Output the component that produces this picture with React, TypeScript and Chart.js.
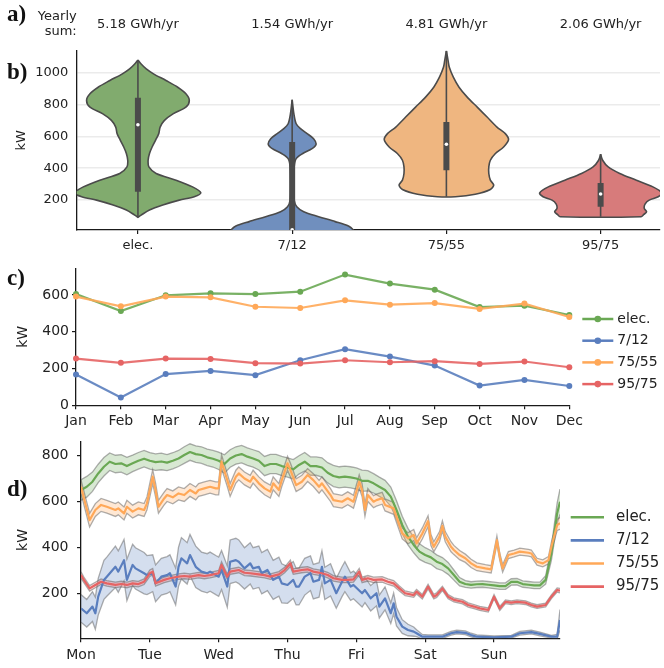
import React, { useEffect, useRef } from 'react';
import { Chart, registerables } from 'chart.js';

Chart.register(...registerables);
Chart.defaults.font.family = '"DejaVu Sans", sans-serif';
Chart.defaults.color = '#222';

// ---------- shared ----------
const seriesNames = ['elec.', '7/12', '75/55', '95/75'];
const lineRGB = [[106, 168, 84], [90, 126, 190], [255, 168, 88], [230, 100, 100]];
const violinRGB = [[129, 171, 110], [112, 143, 190], [239, 182, 128], [215, 123, 123]];
const rgba = (c: number[], a = 1) => `rgba(${c[0]},${c[1]},${c[2]},${a})`;

// ---------- panel a/b : yearly sums and violins ----------
const yearlySumsGWh = [5.18, 1.54, 4.81, 2.06];
const violinTicks = [200, 400, 600, 800, 1000];

// [kW, half width in category units]
const elecProfile = [
  [1079, 0], [1054, 0.021], [1023, 0.054], [992, 0.101], [950, 0.182], [908, 0.258], [867, 0.311],
  [825, 0.333], [783, 0.311], [742, 0.23], [700, 0.172], [658, 0.144], [617, 0.135], [575, 0.114],
  [533, 0.092], [492, 0.075], [450, 0.066], [408, 0.071], [367, 0.118], [325, 0.247], [283, 0.354],
  [246, 0.408], [221, 0.365], [200, 0.268], [169, 0.161], [138, 0.075], [106, 0.021], [92, 0],
];
const chw712Profile = [
  [829, 0], [742, 0.011], [679, 0.026], [648, 0.054], [617, 0.097], [585, 0.139], [550, 0.155],
  [523, 0.129], [492, 0.069], [460, 0.026], [408, 0.013], [283, 0.009], [200, 0.013], [158, 0.03],
  [127, 0.075], [96, 0.172], [65, 0.279], [37, 0.365], [12, 0.397], [-20, 0.42], [-60, 0.3], [-100, 0],
];
const hw7555Profile = [
  [1137, 0], [1075, 0.011], [1033, 0.019], [971, 0.045], [908, 0.082], [846, 0.135], [783, 0.2],
  [721, 0.264], [658, 0.328], [617, 0.382], [579, 0.403], [533, 0.371], [492, 0.318], [450, 0.285],
  [408, 0.275], [367, 0.275], [325, 0.285], [294, 0.307], [267, 0.285], [237, 0.187], [221, 0.058],
];
const hw9575Profile = [
  [488, 0], [450, 0.013], [408, 0.049], [367, 0.124], [325, 0.232], [283, 0.339], [246, 0.395],
  [221, 0.373], [200, 0.315], [175, 0.288], [148, 0.283], [127, 0.298], [110, 0.28], [96, 0.262],
];
// [whisker low, q1, median, q3, whisker high]
const elecBox = [92, 252, 673, 842, 1079];
const chw712Box = [0, 0, 14, 565, 829];
const hw7555Box = [221, 388, 550, 690, 1137];
const hw9575Box = [96, 158, 238, 308, 488];

// ---------- panel c : monthly means ----------
const months = ['Jan', 'Feb', 'Mar', 'Apr', 'May', 'Jun', 'Jul', 'Aug', 'Sep', 'Oct', 'Nov', 'Dec'];
const monthlyTicks = [0, 200, 400, 600];
const elecMonthly = [605, 513, 598, 609, 605, 618, 711, 662, 629, 534, 542, 491];
const chw712Monthly = [167, 42, 170, 187, 164, 245, 305, 265, 216, 107, 138, 105];
const hw7555Monthly = [591, 538, 591, 587, 536, 529, 571, 547, 556, 524, 553, 480];
const hw9575Monthly = [254, 231, 254, 252, 229, 227, 245, 234, 240, 225, 238, 207];

// ---------- panel d : typical week ----------
const dayNames = ['Mon', 'Tue', 'Wed', 'Thu', 'Fri', 'Sat', 'Sun'];
const weekTicks = [200, 400, 600, 800];

const elecWeekHours = [...Array.from({ length: 84 }, (_, i) => i * 2), 167];
const elecWeekKW = [
  651, 665, 687, 723, 752, 774, 764, 767, 755, 767, 778, 787,
  778, 772, 775, 770, 778, 788, 803, 816, 807, 803, 793, 787,
  778, 764, 788, 801, 807, 796, 788, 778, 755, 764, 764, 755,
  749, 741, 760, 774, 755, 755, 749, 726, 712, 706, 709, 706,
  701, 691, 691, 680, 665, 651, 622, 564, 499, 448, 412, 383,
  368, 358, 339, 329, 310, 281, 252, 242, 238, 241, 242, 239,
  236, 233, 233, 251, 252, 242, 239, 236, 236, 260, 375, 549,
  600,
];
const elecWeekSpread = [
  45, 45, 42, 40, 40, 38, 38, 38, 38, 36, 36, 36,
  36, 36, 36, 35, 35, 35, 36, 36, 36, 36, 36, 36,
  38, 40, 38, 38, 38, 38, 38, 40, 42, 42, 42, 42,
  42, 42, 40, 40, 40, 40, 42, 44, 46, 46, 46, 46,
  46, 46, 44, 42, 42, 42, 42, 40, 38, 36, 34, 34,
  32, 30, 30, 28, 26, 22, 18, 15, 14, 14, 14, 14,
  14, 14, 14, 14, 14, 14, 14, 14, 14, 18, 30, 45,
  55,
];

const chw712WeekHours = [
  0, 2, 4, 5, 6, 8, 9, 12, 13, 15, 16, 18, 19, 22, 23, 25, 26, 28, 30, 31,
  33, 34, 35, 37, 38, 40, 42, 44, 45, 47, 48, 49, 51, 52, 54, 55, 57, 59, 60, 62,
  63, 65, 67, 69, 70, 72, 74, 75, 76, 78, 80, 81, 83, 84, 85, 87, 89, 91, 92, 94,
  95, 98, 99, 101, 103, 104, 106, 108, 109, 110, 112, 114, 116, 117, 119, 121, 126, 129, 131, 134,
  136, 138, 144, 150, 153, 157, 160, 164, 166, 167,
];
const chw712WeekKW = [
  136, 115, 144, 115, 187, 260, 274, 317, 296, 346, 260, 325, 310, 289, 281, 289, 245, 274, 281, 289,
  231, 317, 354, 332, 368, 317, 296, 289, 296, 281, 274, 303, 231, 339, 346, 339, 310, 332, 310, 317,
  289, 303, 260, 274, 245, 238, 260, 231, 231, 274, 289, 252, 260, 317, 245, 260, 202, 252, 274, 231,
  238, 202, 216, 180, 202, 144, 180, 115, 158, 100, 57, 42, 35, 28, 13, 13, 13, 28, 33, 30,
  20, 13, 10, 13, 28, 33, 25, 13, 13, 86,
];
const chw712WeekSpread = [
  60, 60, 65, 70, 80, 85, 85, 90, 90, 90, 90, 90, 90, 90, 85, 80, 80, 80, 80, 80,
  80, 85, 90, 90, 90, 90, 85, 85, 85, 85, 85, 85, 90, 95, 95, 95, 90, 90, 90, 90,
  90, 90, 85, 85, 85, 80, 80, 80, 80, 80, 75, 75, 75, 70, 70, 70, 65, 65, 65, 60,
  60, 60, 55, 55, 55, 50, 50, 45, 45, 40, 30, 25, 20, 15, 10, 8, 8, 8, 8, 8,
  8, 8, 6, 6, 8, 8, 8, 6, 10, 45,
];

const hw7555WeekHours = [
  0, 3, 5, 7, 9, 12, 13, 15, 16, 18, 20, 22, 23, 24, 25, 26, 27, 29, 30, 32,
  34, 36, 38, 40, 41, 43, 45, 47, 48, 49, 51, 52, 54, 55, 57, 59, 60, 62, 64, 66,
  67, 69, 70, 72, 73, 75, 77, 79, 81, 83, 84, 87, 88, 91, 93, 95, 97, 98, 99, 100,
  102, 103, 105, 106, 109, 110, 112, 114, 116, 117, 119, 121, 122, 123, 125, 126, 127, 129, 130, 132,
  134, 136, 138, 141, 143, 145, 146, 147, 149, 151, 153, 156, 157, 159, 161, 163, 164, 166, 167,
];
const hw7555WeekKW = [
  665, 520, 564, 586, 578, 564, 571, 549, 578, 557, 571, 564, 593, 651, 709, 651, 578, 614, 629, 619,
  636, 629, 651, 636, 651, 658, 665, 658, 658, 774, 694, 651, 709, 723, 701, 687, 709, 680, 658, 644,
  680, 651, 694, 767, 738, 672, 687, 716, 694, 665, 680, 629, 607, 600, 615, 600, 687, 651, 564, 629,
  600, 607, 615, 586, 571, 535, 462, 441, 455, 419, 462, 515, 433, 404, 448, 495, 448, 404, 390, 368,
  354, 332, 317, 310, 306, 433, 361, 310, 368, 375, 383, 378, 375, 339, 332, 346, 404, 499, 506,
];
const hw7555WeekSpread = [
  30, 30, 28, 28, 28, 28, 28, 28, 28, 28, 28, 28, 28, 30, 30, 30, 28, 28, 28, 28,
  28, 28, 28, 28, 28, 28, 28, 28, 28, 30, 28, 28, 28, 28, 28, 28, 28, 28, 28, 28,
  28, 28, 28, 30, 30, 28, 28, 28, 28, 28, 28, 28, 28, 28, 28, 28, 30, 28, 28, 28,
  26, 26, 26, 26, 26, 26, 24, 24, 24, 24, 24, 24, 24, 22, 22, 22, 22, 22, 20, 20,
  18, 18, 17, 16, 16, 18, 16, 16, 15, 15, 15, 15, 15, 15, 15, 16, 20, 24, 26,
];

const hw9575WeekHours = [
  0, 1, 3, 5, 7, 9, 12, 14, 16, 18, 20, 22, 24, 25, 26, 29, 31, 34, 36, 38,
  41, 43, 45, 48, 49, 51, 52, 55, 57, 59, 62, 64, 66, 69, 71, 73, 74, 77, 79, 81,
  84, 86, 88, 91, 93, 95, 97, 98, 100, 102, 105, 107, 109, 111, 113, 116, 117, 119, 121, 123,
  124, 126, 128, 130, 133, 135, 137, 139, 142, 144, 146, 148, 150, 152, 155, 157, 159, 162, 164, 166,
  167,
];
const hw9575WeekKW = [
  281, 260, 223, 238, 252, 245, 238, 242, 238, 245, 242, 252, 289, 296, 245, 260, 267, 274, 277, 274,
  281, 277, 281, 289, 325, 274, 296, 303, 291, 289, 284, 281, 274, 284, 303, 332, 296, 303, 306, 296,
  289, 281, 267, 260, 260, 262, 296, 260, 267, 260, 262, 252, 245, 223, 202, 194, 209, 187, 231, 187,
  194, 223, 187, 173, 165, 151, 144, 136, 129, 187, 136, 165, 161, 165, 161, 151, 144, 151, 187, 216,
  213,
];
const hw9575WeekSpread = [
  14, 12, 12, 12, 12, 12, 12, 12, 12, 12, 12, 12, 14, 14, 12, 12, 12, 12, 12, 12,
  12, 12, 12, 12, 14, 12, 12, 12, 12, 12, 12, 12, 12, 12, 12, 14, 12, 12, 12, 12,
  12, 12, 12, 12, 12, 12, 14, 12, 12, 12, 12, 12, 12, 11, 10, 10, 10, 10, 10, 10,
  10, 9, 9, 9, 9, 9, 9, 9, 9, 9, 9, 8, 8, 8, 8, 8, 8, 8, 8, 9,
  10,
];

// ---------- helpers ----------
const BORDER = '#1a1a1a';
const TEXT = '#222';

function fixedAxis(size: number, horizontal: boolean) {
  return (s: any) => {
    if (horizontal) s.height = size; else s.width = size;
    s.paddingLeft = 0; s.paddingRight = 0; s.paddingTop = 0; s.paddingBottom = 0;
  };
}

function sideLegend(id: string, o: any) {
  return {
    id,
    afterDraw(chart: any) {
      const { ctx, chartArea } = chart;
      ctx.save();
      ctx.font = `${o.fontSize}px "DejaVu Sans"`;
      ctx.textBaseline = 'middle';
      ctx.textAlign = 'left';
      seriesNames.forEach((n, i) => {
        const y = chartArea.top + o.top + i * o.step;
        const x0 = chartArea.right + o.dx;
        ctx.strokeStyle = rgba(lineRGB[i]);
        ctx.lineWidth = o.lw;
        ctx.beginPath(); ctx.moveTo(x0, y); ctx.lineTo(x0 + o.len, y); ctx.stroke();
        if (o.dot) {
          ctx.fillStyle = rgba(lineRGB[i]);
          ctx.beginPath(); ctx.arc(x0 + o.len / 2, y, o.dot, 0, Math.PI * 2); ctx.fill();
        }
        ctx.fillStyle = TEXT;
        ctx.fillText(n, x0 + o.textDx, y);
      });
      ctx.restore();
    },
  };
}

function panelLabel(id: string, text: string, x: number, y: number) {
  return {
    id,
    afterDraw(chart: any) {
      const ctx = chart.ctx;
      ctx.save();
      ctx.font = 'bold 23px "Liberation Serif", "DejaVu Serif", serif';
      ctx.fillStyle = '#111';
      ctx.textAlign = 'left';
      ctx.textBaseline = 'alphabetic';
      ctx.fillText(text, x, y);
      ctx.restore();
    },
  };
}

const plainNumber = (v: any) => String(v);

// ---------- chart builders ----------
function buildViolinChart(canvas: HTMLCanvasElement) {
  const profiles = [elecProfile, chw712Profile, hw7555Profile, hw9575Profile];
  const boxes = [elecBox, chw712Box, hw7555Box, hw9575Box];
  const datasets: any[] = [];
  profiles.forEach((p, i) => {
    const right = p.map(([v, w]) => ({ x: i + w, y: v }));
    const left = p.slice().reverse().map(([v, w]) => ({ x: i - w, y: v }));
    datasets.push({
      data: [...right, ...left], showLine: true, fill: 'shape', tension: 0.3,
      backgroundColor: rgba(violinRGB[i]), borderColor: '#4b4b4b', borderWidth: 1.6,
      pointRadius: 0, order: 40,
    });
  });
  boxes.forEach((b, i) => {
    datasets.push({
      data: [{ x: i, y: b[0] }, { x: i, y: b[4] }], showLine: true, borderColor: '#4b4b4b',
      borderWidth: 1.6, pointRadius: 0, order: 30,
    });
    datasets.push({
      data: [{ x: i, y: b[1] }, { x: i, y: b[3] }], showLine: true, borderColor: '#4b4b4b',
      borderWidth: 6, borderCapStyle: 'butt', pointRadius: 0, order: 20,
    });
    datasets.push({
      data: [{ x: i, y: b[2] }], showLine: false, pointRadius: 1.8, pointBackgroundColor: '#fff',
      pointBorderWidth: 0, order: 10,
    });
  });

  const textPlugin = {
    id: 'panelAB',
    afterDraw(chart: any) {
      const { ctx, chartArea } = chart;
      const xs = chart.scales.x;
      ctx.save();
      ctx.fillStyle = TEXT;
      ctx.font = '13px "DejaVu Sans"';
      ctx.textBaseline = 'alphabetic';
      ctx.textAlign = 'center';
      yearlySumsGWh.forEach((s, i) => ctx.fillText(`${s.toFixed(2)} GWh/yr`, xs.getPixelForValue(i), 27.5));
      ctx.textAlign = 'right';
      ctx.fillText('Yearly', chartArea.left, 20);
      ctx.fillText('sum:', chartArea.left, 35);
      ctx.font = 'bold 23px "Liberation Serif", "DejaVu Serif", serif';
      ctx.fillStyle = '#111';
      ctx.textAlign = 'left';
      ctx.fillText('a)', 7, 21);
      ctx.fillText('b)', 7, 79);
      ctx.restore();
    },
  };

  return new Chart(canvas, {
    type: 'scatter',
    data: { datasets },
    options: {
      animation: false, responsive: false, maintainAspectRatio: false,
      layout: { padding: { top: 50.7, left: 0, right: 0, bottom: 0 } },
      plugins: { legend: { display: false }, tooltip: { enabled: false } },
      scales: {
        x: {
          type: 'linear', min: -0.397, max: 3.385,
          afterBuildTicks: (s: any) => { s.ticks = seriesNames.map((_, i) => ({ value: i })); },
          ticks: {
            callback: (v: any) => seriesNames[v] ?? '', font: { size: 13 }, color: TEXT, padding: 4,
            maxRotation: 0, autoSkip: false,
          },
          grid: { display: true, drawOnChartArea: false, drawTicks: true, tickLength: 4, color: BORDER, lineWidth: 1.2 },
          border: { display: true, color: BORDER, width: 1.3 },
          afterFit: fixedAxis(32, true),
        },
        y: {
          type: 'linear', min: 12.5, max: 1137,
          afterBuildTicks: (s: any) => { s.ticks = violinTicks.map((v) => ({ value: v })); },
          ticks: { font: { size: 13 }, color: TEXT, padding: 8.4, callback: plainNumber },
          grid: { color: '#ebebeb', lineWidth: 1.6, drawTicks: false },
          border: { display: true, color: BORDER, width: 1.3 },
          title: { display: true, text: 'kW', font: { size: 13 }, color: TEXT, padding: { top: 14, bottom: 0 } },
          afterFit: fixedAxis(76.7, false),
        },
      },
    } as any,
    plugins: [textPlugin],
  });
}

function buildMonthlyChart(canvas: HTMLCanvasElement) {
  const series = [elecMonthly, chw712Monthly, hw7555Monthly, hw9575Monthly];
  const datasets = series.map((d, i) => ({
    label: seriesNames[i], data: d, borderColor: rgba(lineRGB[i], 0.9), backgroundColor: rgba(lineRGB[i]),
    pointBackgroundColor: rgba(lineRGB[i]), pointRadius: 3, pointBorderWidth: 0, borderWidth: 2.2,
    tension: 0, clip: false, order: 10 - i,
  }));
  return new Chart(canvas, {
    type: 'line',
    data: { labels: months, datasets },
    options: {
      animation: false, responsive: false, maintainAspectRatio: false,
      layout: { padding: { top: 6.3, left: 0, right: 94.7, bottom: 0 } },
      plugins: { legend: { display: false }, tooltip: { enabled: false } },
      scales: {
        x: {
          type: 'category', offset: false,
          ticks: { font: { size: 14 }, color: TEXT, padding: 4, maxRotation: 0, autoSkip: false },
          grid: { display: true, drawOnChartArea: false, drawTicks: true, tickLength: 4, color: BORDER, lineWidth: 1.2 },
          border: { display: true, color: BORDER, width: 1.3 },
          afterFit: fixedAxis(34.7, true),
        },
        y: {
          type: 'linear', min: 0, max: 745,
          afterBuildTicks: (s: any) => { s.ticks = monthlyTicks.map((v) => ({ value: v })); },
          ticks: { font: { size: 14 }, color: TEXT, padding: 3, callback: plainNumber },
          grid: { display: true, drawOnChartArea: false, drawTicks: true, tickLength: 4, color: BORDER, lineWidth: 1.2 },
          border: { display: true, color: BORDER, width: 1.3 },
          title: { display: true, text: 'kW', font: { size: 14 }, color: TEXT, padding: { top: 14.9, bottom: 0 } },
          afterFit: fixedAxis(76, false),
        },
      },
    } as any,
    plugins: [
      sideLegend('legendC', { fontSize: 14, top: 50.7, step: 21.7, dx: 13, len: 31, lw: 2.5, dot: 3.3, textDx: 35 }),
      panelLabel('labelC', 'c)', 7, 22.5),
    ],
  });
}

function buildWeekChart(canvas: HTMLCanvasElement) {
  const week = [
    { h: elecWeekHours, kw: elecWeekKW, sp: elecWeekSpread },
    { h: chw712WeekHours, kw: chw712WeekKW, sp: chw712WeekSpread },
    { h: hw7555WeekHours, kw: hw7555WeekKW, sp: hw7555WeekSpread },
    { h: hw9575WeekHours, kw: hw9575WeekKW, sp: hw9575WeekSpread },
  ];
  const edge = 'rgba(95,95,95,0.5)';
  const datasets: any[] = [];
  week.forEach((s, i) => {
    datasets.push({
      data: s.h.map((x, k) => ({ x, y: s.kw[k] + s.sp[k] })), borderColor: edge, borderWidth: 1.3,
      pointRadius: 0, fill: '+1', backgroundColor: rgba(lineRGB[i], 0.26), tension: 0,
    });
    datasets.push({
      data: s.h.map((x, k) => ({ x, y: s.kw[k] - s.sp[k] })), borderColor: edge, borderWidth: 1.3,
      pointRadius: 0, fill: false, tension: 0,
    });
  });
  week.forEach((s, i) => {
    datasets.push({
      data: s.h.map((x, k) => ({ x, y: s.kw[k] })), borderColor: rgba(lineRGB[i]), borderWidth: 2.2,
      pointRadius: 0, fill: false, tension: 0, borderJoinStyle: 'round',
    });
  });
  datasets.forEach((d, idx) => { d.order = datasets.length - idx; });

  return new Chart(canvas, {
    type: 'line',
    data: { datasets },
    options: {
      animation: false, responsive: false, maintainAspectRatio: false,
      layout: { padding: { top: 1.7, left: 0, right: 104, bottom: 0 } },
      plugins: { legend: { display: false }, tooltip: { enabled: false } },
      scales: {
        x: {
          type: 'linear', min: 0, max: 167,
          afterBuildTicks: (s: any) => { s.ticks = dayNames.map((_, i) => ({ value: i * 24 })); },
          ticks: {
            callback: (v: any) => dayNames[Math.round(v / 24)] ?? '', font: { size: 14 }, color: TEXT,
            padding: 5, maxRotation: 0, autoSkip: false,
          },
          grid: { display: true, drawOnChartArea: false, drawTicks: true, tickLength: 4, color: BORDER, lineWidth: 1.2 },
          border: { display: true, color: BORDER, width: 1.3 },
          afterFit: fixedAxis(29.7, true),
        },
        y: {
          type: 'linear', min: 6, max: 861,
          afterBuildTicks: (s: any) => { s.ticks = weekTicks.map((v) => ({ value: v })); },
          ticks: { font: { size: 14 }, color: TEXT, padding: 8.5, callback: plainNumber },
          grid: { display: true, drawOnChartArea: false, drawTicks: true, tickLength: 4, color: BORDER, lineWidth: 1.2 },
          border: { display: true, color: BORDER, width: 1.3 },
          title: { display: true, text: 'kW', font: { size: 14 }, color: TEXT, padding: { top: 14.9, bottom: 0 } },
          afterFit: fixedAxis(81, false),
        },
      },
    } as any,
    plugins: [
      sideLegend('legendD', { fontSize: 15, top: 75.6, step: 23.1, dx: 10.7, len: 33.3, lw: 2.6, dot: 0, textDx: 45.3 }),
      panelLabel('labelD', 'd)', 7, 56),
    ],
  });
}

export default function App() {
  const refB = useRef<HTMLCanvasElement>(null);
  const refC = useRef<HTMLCanvasElement>(null);
  const refD = useRef<HTMLCanvasElement>(null);

  useEffect(() => {
    const charts: Chart[] = [];
    if (refB.current) charts.push(buildViolinChart(refB.current));
    if (refC.current) charts.push(buildMonthlyChart(refC.current));
    if (refD.current) charts.push(buildWeekChart(refD.current));
    return () => charts.forEach((c) => c.destroy());
  }, []);

  return (
    <div style={{ position: 'absolute', left: 0, top: 0, width: 664, height: 668, background: '#fff', overflow: 'hidden' }}>
      <canvas ref={refB} width={664} height={262} style={{ position: 'absolute', left: 0, top: 0, width: 664, height: 262 }} />
      <canvas ref={refC} width={664} height={178} style={{ position: 'absolute', left: 0, top: 262, width: 664, height: 178 }} />
      <canvas ref={refD} width={664} height={228} style={{ position: 'absolute', left: 0, top: 440, width: 664, height: 228 }} />
    </div>
  );
}
